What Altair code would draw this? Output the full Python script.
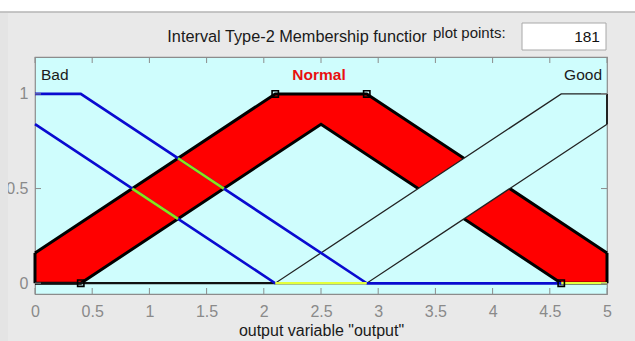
import altair as alt
import numpy as np
import pandas as pd

# ---- values ----
x_ticks = [0, 0.5, 1, 1.5, 2, 2.5, 3, 3.5, 4, 4.5, 5]
y_ticks = [0, 0.5, 1]

bad_upper_x = [0, 0.4, 2.9, 5]
bad_upper_y = [1, 1, 0, 0]
bad_lower_x = [0, 2.1, 5]
bad_lower_y = [0.84, 0, 0]

normal_upper_x = [0, 2.1, 2.9, 5]
normal_upper_y = [0.16, 1, 1, 0.16]
normal_lower_x = [0, 0.4, 2.5, 4.6, 5]
normal_lower_y = [0, 0, 0.84, 0, 0]

good_upper_x = [0, 2.1, 4.6, 5]
good_upper_y = [0, 0, 1, 1]
good_lower_x = [0, 2.9, 5]
good_lower_y = [0, 0, 0.84]

normal_knots_x = [0.4, 2.1, 2.9, 4.6]
normal_knots_y = [0, 1, 1, 0]

# Bad segments that cross the Normal band (drawn highlighted)
cross_x1 = [0.85, 1.25]
cross_y1 = [0.5, 0.34]
cross_x2 = [1.25, 1.65]
cross_y2 = [0.66, 0.5]

# segments of the zero line that show highlighted
zero_hi_start = [2.1, 4.6]
zero_hi_end = [2.9, 5]

mf_names = ["Bad", "Normal", "Good"]
mf_label_x = [0, 2.5, 5]
mf_label_y = 1.1

title_text = "Interval Type-2 Membership functior"
points_label = "plot points:"
points_value = "181"
x_title = 'output variable "output"'

# ---- build tables ----
def band(ux, uy, lx, ly):
    xs = sorted(set(ux) | set(lx))
    return pd.DataFrame({"x": xs,
                         "hi": np.interp(xs, ux, uy),
                         "lo": np.interp(xs, lx, ly)})

def lines(*pairs):
    frames = []
    for i, (xs, ys) in enumerate(pairs):
        frames.append(pd.DataFrame({"x": xs, "y": ys, "s": i}))
    return pd.concat(frames, ignore_index=True)

normal_band = band(normal_upper_x, normal_upper_y, normal_lower_x, normal_lower_y)
good_band = band(good_upper_x, good_upper_y, good_lower_x, good_lower_y)

W, H = 572, 237
xs = alt.Scale(domain=[0, 5], nice=False, zero=False)
ys = alt.Scale(domain=[-0.057, 1.195], nice=False, zero=False)

FONT = "Liberation Sans"
CYAN = "#CFFDFD"
BLUE = "#0A0AD0"
HILITE = "#8CE614"
YEL = "#E4FF3C"

X = lambda f="x": alt.X(f, type="quantitative", scale=xs,
                        axis=alt.Axis(values=x_ticks, title=x_title, grid=False, domain=False,
                                      ticks=False, tickSize=0, labelPadding=9, format="~g",
                                      labelFont=FONT, labelFontSize=16, labelColor="#8a8a8a",
                                      titleFont=FONT, titleFontSize=16, titleColor="#1a1a1a",
                                      titleFontWeight="normal", titlePadding=3,
                                      labelFlush=False))
Y = lambda f="y": alt.Y(f, type="quantitative", scale=ys,
                        axis=alt.Axis(values=y_ticks, title=None, grid=False, domain=False,
                                      ticks=False, tickSize=0, labelPadding=7, format="~g",
                                      labelFont=FONT, labelFontSize=16, labelColor="#8a8a8a",
                                      labelFlush=False))

red_area = alt.Chart(normal_band).mark_area(color="#FF0000", opacity=1).encode(
    x=X(), y=Y("hi"), y2="lo")

normal_lines = alt.Chart(lines((normal_upper_x, normal_upper_y),
                               (normal_lower_x, normal_lower_y))).mark_line(
    color="#000000", strokeWidth=3).encode(x=X(), y=Y(), detail="s:N")

normal_edges = alt.Chart(pd.DataFrame({
    "x": [normal_upper_x[0], normal_upper_x[-1]],
    "y": [normal_lower_y[0], normal_lower_y[-1]],
    "y2": [normal_upper_y[0], normal_upper_y[-1]]})).mark_rule(
    color="#000000", strokeWidth=3).encode(x=X(), y=Y(), y2="y2")

good_area = alt.Chart(good_band).mark_area(color=CYAN, opacity=1).encode(
    x=X(), y=Y("hi"), y2="lo")

good_lines = alt.Chart(lines((good_upper_x, good_upper_y),
                             (good_lower_x, good_lower_y))).mark_line(
    color="#222222", strokeWidth=1.3).encode(x=X(), y=Y(), detail="s:N")

good_edge = alt.Chart(pd.DataFrame({
    "x": [good_upper_x[-1]], "y": [good_lower_y[-1]], "y2": [good_upper_y[-1]]})).mark_rule(
    color="#222222", strokeWidth=2).encode(x=X(), y=Y(), y2="y2")

zero_black = alt.Chart(pd.DataFrame({"x": [good_upper_x[0]], "x2": [good_upper_x[1]],
                                     "y": [0]})).mark_rule(
    color="#111111", strokeWidth=2.2).encode(x=X(), x2="x2", y=Y())

bad_lines = alt.Chart(lines((bad_upper_x, bad_upper_y),
                            (bad_lower_x, bad_lower_y))).mark_line(
    color=BLUE, strokeWidth=2.6).encode(x=X(), y=Y(), detail="s:N")

cross = alt.Chart(pd.DataFrame({
    "x": [cross_x1[0], cross_x2[0]], "x2": [cross_x1[1], cross_x2[1]],
    "y": [cross_y1[0], cross_y2[0]], "y2": [cross_y1[1], cross_y2[1]]})).mark_rule(
    color=HILITE, strokeWidth=2.6).encode(x=X(), x2="x2", y=Y(), y2="y2")

zero_hi = alt.Chart(pd.DataFrame({"x": zero_hi_start, "x2": zero_hi_end,
                                  "y": [0] * len(zero_hi_start)})).mark_rule(
    color=YEL, strokeWidth=2.6).encode(x=X(), x2="x2", y=Y())

knots = alt.Chart(pd.DataFrame({"x": normal_knots_x, "y": normal_knots_y})).mark_point(
    shape="square", filled=False, size=40, color="#000000", strokeWidth=1.6, opacity=1).encode(
    x=X(), y=Y())

lab_df = pd.DataFrame({"name": mf_names, "x": mf_label_x, "y": [mf_label_y] * 3})
lab_bad = alt.Chart(lab_df.iloc[[0]]).mark_text(
    align="left", baseline="middle", dx=6, font=FONT, fontSize=15.5, color="#1a1a1a").encode(
    x=X(), y=Y(), text="name")
lab_norm = alt.Chart(lab_df.iloc[[1]]).mark_text(
    align="center", baseline="middle", dx=-2, font=FONT, fontSize=15.5, fontWeight="bold",
    color="#E81010").encode(x=X(), y=Y(), text="name")
lab_good = alt.Chart(lab_df.iloc[[2]]).mark_text(
    align="right", baseline="middle", dx=-5, font=FONT, fontSize=15.5, color="#1a1a1a").encode(
    x=X(), y=Y(), text="name")

# inward tick marks
tick_x = pd.DataFrame({"x": x_ticks})
tick_y = pd.DataFrame({"y": y_ticks})
TC = "#8c8c8c"
ticks_bottom = alt.Chart(tick_x).mark_rule(color=TC, strokeWidth=1).encode(
    x=X(), y=alt.value(H), y2=alt.value(H - 6))
ticks_top = alt.Chart(tick_x).mark_rule(color=TC, strokeWidth=1).encode(
    x=X(), y=alt.value(0), y2=alt.value(6))
ticks_left = alt.Chart(tick_y).mark_rule(color=TC, strokeWidth=1).encode(
    y=Y(), x=alt.value(0), x2=alt.value(6))
ticks_right = alt.Chart(tick_y).mark_rule(color=TC, strokeWidth=1).encode(
    y=Y(), x=alt.value(W), x2=alt.value(W - 6))

# window decorations (outside the plot area)
one = pd.DataFrame({"k": [0]})
top_strip = alt.Chart(one).mark_rect(color="#FFFFFF").encode(
    x=alt.value(-35), x2=alt.value(600), y=alt.value(-57), y2=alt.value(-45))
top_line = alt.Chart(one).mark_rule(color="#B4B4B4", strokeWidth=1.5).encode(
    x=alt.value(-35), x2=alt.value(600), y=alt.value(-45))
left_strip = alt.Chart(one).mark_rect(color="#E4E4E4").encode(
    x=alt.value(-35), x2=alt.value(-27), y=alt.value(-44), y2=alt.value(H + 47))
title = alt.Chart(one).mark_text(text=title_text, align="center", baseline="middle",
                                 font=FONT, fontSize=16.3, color="#1a1a1a").encode(
    x=alt.value(262), y=alt.value(-20))
pts_lab = alt.Chart(one).mark_text(text=points_label, align="left", baseline="middle",
                                   font=FONT, fontSize=15, color="#1a1a1a").encode(
    x=alt.value(398), y=alt.value(-24))
box = alt.Chart(one).mark_rect(fill="#FFFFFF", stroke="#A8A8A8", strokeWidth=1).encode(
    x=alt.value(487), x2=alt.value(571), y=alt.value(-34), y2=alt.value(-7))
pts_val = alt.Chart(one).mark_text(text=points_value, align="right", baseline="middle",
                                   font=FONT, fontSize=15.5, color="#111111").encode(
    x=alt.value(565), y=alt.value(-20))

chart = alt.layer(
    red_area, normal_lines, normal_edges,
    good_area, good_lines, good_edge, zero_black,
    bad_lines, cross, zero_hi, knots,
    lab_bad, lab_norm, lab_good,
    ticks_bottom, ticks_top, ticks_left, ticks_right,
    top_strip, top_line, left_strip, title, pts_lab, box, pts_val,
).properties(
    width=W, height=H,
    autosize=alt.AutoSizeParams(type="none"),
    padding={"left": 35, "top": 57, "right": 28, "bottom": 47},
    background="#E9E9E9",
).configure_view(fill=CYAN, stroke="#8c8c8c", strokeWidth=1.2)

chart.save("out.html", embed_options={"renderer": "svg", "actions": False})
